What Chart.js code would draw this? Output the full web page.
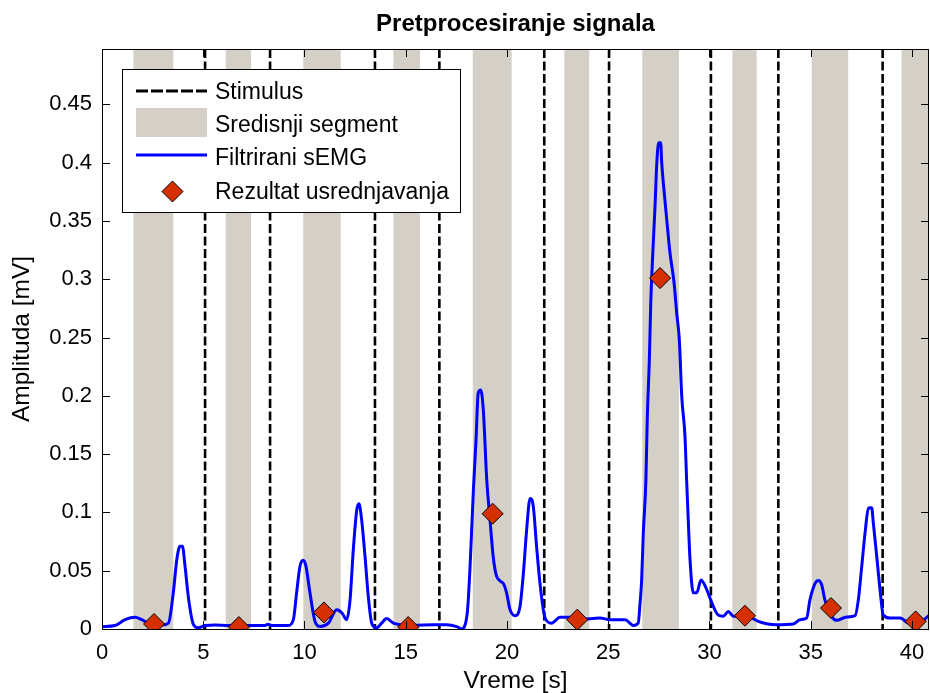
<!DOCTYPE html>
<html>
<head>
<meta charset="utf-8">
<script src="https://cdn.jsdelivr.net/npm/chart.js@4.4.1/dist/chart.umd.min.js"></script>
<style>html,body{margin:0;background:#fff}</style>
</head>
<body>
<canvas id="c" width="930" height="693"></canvas>
<script>
// filtered sEMG envelope
const tSig=[0,0.64,1.14,1.63,1.96,2.37,2.95,3.28,3.52,3.69,3.85,3.97,4.1,4.26,4.51,4.76,5.09,5.58,6.24,7.39,8.05,8.2,8.38,9.2,9.45,9.61,9.78,9.94,10.07,10.27,10.52,10.77,11.18,11.59,11.84,12.08,12.25,12.41,12.58,12.69,12.82,12.99,13.15,13.32,13.56,13.81,14.06,14.39,14.72,15.37,16.36,17.02,17.52,17.76,17.9,18.05,18.17,18.34,18.47,18.58,18.7,18.83,19.0,19.16,19.32,19.49,19.82,19.98,20.15,20.4,20.64,20.81,20.97,21.14,21.3,21.46,21.63,21.88,22.2,22.62,23.11,23.6,24.59,25.09,25.83,26.24,26.48,26.57,26.65,26.73,26.86,26.93,27.03,27.1,27.2,27.31,27.39,27.49,27.59,27.64,27.75,27.89,28.05,28.25,28.38,28.51,28.63,28.79,28.87,28.95,29.04,29.2,29.37,29.58,29.86,30.1,30.43,30.68,30.93,31.18,31.83,32.41,32.82,33.32,34.14,34.47,34.8,34.96,35.21,35.37,35.54,35.7,36.03,36.28,36.77,37.19,37.35,37.52,37.68,37.85,38.01,38.09,38.26,38.42,38.58,38.91,39.41,39.82,40.23,40.56,40.86];
const vSig=[0.002,0.003,0.008,0.010,0.008,0.0045,0.0034,0.005,0.031,0.059,0.071,0.071,0.054,0.028,0.004,0.001,0.003,0.0034,0.003,0.003,0.003,0.004,0.003,0.003,0.008,0.031,0.054,0.059,0.054,0.031,0.0065,0.0022,0.005,0.0166,0.014,0.008,0.025,0.068,0.102,0.1075,0.094,0.062,0.028,0.005,0.001,0.005,0.009,0.005,0.0037,0.003,0.0037,0.0037,0.002,0.0,0.002,0.016,0.051,0.119,0.162,0.2025,0.205,0.188,0.128,0.094,0.062,0.045,0.039,0.031,0.0166,0.0114,0.019,0.048,0.085,0.112,0.105,0.071,0.039,0.0094,0.005,0.010,0.010,0.008,0.0094,0.008,0.008,0.003,0.005,0.022,0.042,0.082,0.128,0.182,0.231,0.28,0.3225,0.3625,0.397,0.417,0.417,0.40,0.377,0.351,0.3225,0.297,0.271,0.248,0.1995,0.165,0.128,0.094,0.059,0.031,0.031,0.042,0.034,0.023,0.012,0.011,0.015,0.011,0.011,0.0065,0.0045,0.0037,0.0043,0.008,0.0094,0.025,0.039,0.0417,0.038,0.025,0.0108,0.0074,0.0103,0.0114,0.025,0.054,0.082,0.1038,0.104,0.091,0.062,0.034,0.012,0.0094,0.0094,0.005,0.0037,0.0074,0.012];
// averaging result (one per central segment)
const tAvg=[2.57,6.76,10.96,15.12,19.29,23.47,27.56,31.75,36.0,40.18];
const vAvg=[0.0043,0.0017,0.0142,0.0017,0.0989,0.008,0.301,0.0114,0.018,0.0065];
// stimulus times
const stimulus=[5.09,8.3,13.48,16.66,21.84,25.04,30.07,33.4,38.55];
// central segments
const segStart=[1.55,6.11,9.94,14.39,18.31,22.83,26.68,31.13,35.05,39.49];
const segEnd=[3.52,7.36,11.79,15.70,20.23,24.06,28.49,32.33,36.85,41.0];
const xTicks=[0,5,10,15,20,25,30,35,40];
const yTicks=[0,0.05,0.1,0.15,0.2,0.25,0.3,0.35,0.4,0.45];
const X_MAX=40.84, Y_MAX=0.4975;

const FONT='"Liberation Sans", Arial, sans-serif';
const GRAY='#d4d0c8';
const MARK='#d63000';

const datasets=[
  {label:'Rezultat usrednjavanja',data:tAvg.map((t,i)=>({x:t,y:vAvg[i]})),showLine:false,
   pointStyle:'rectRot',pointRadius:10.5,pointBackgroundColor:MARK,pointBorderColor:'#000',pointBorderWidth:1},
  {label:'Filtrirani sEMG',data:tSig.map((t,i)=>({x:t,y:vSig[i]})),borderColor:'#0000ff',borderWidth:3,
   pointRadius:0,cubicInterpolationMode:'monotone'}
];
stimulus.forEach(s=>datasets.push({label:'Stimulus',data:[{x:s,y:Y_MAX},{x:s,y:0}],borderColor:'#000',
  borderWidth:2.6,borderDash:[9,3.5],pointRadius:0}));

const frame={
  id:'frame',
  beforeDatasetsDraw(chart){
    const {ctx,chartArea:a,scales:{x}}=chart;
    ctx.save();
    ctx.fillStyle=GRAY;
    segStart.forEach((s,i)=>{
      const l=x.getPixelForValue(s), r=Math.min(x.getPixelForValue(segEnd[i]),a.right);
      ctx.fillRect(l,a.top,r-l,a.bottom-a.top);
    });
    ctx.restore();
  },
  afterDatasetsDraw(chart){
    const {ctx,chartArea:a,scales:{x,y}}=chart;
    ctx.save();
    ctx.strokeStyle='#000';ctx.lineWidth=1;
    ctx.strokeRect(a.left+0.5,a.top+0.5,a.right-a.left-1,a.bottom-a.top);
    ctx.beginPath();
    const tl=8;
    xTicks.forEach(v=>{const p=Math.round(x.getPixelForValue(v))+0.5;
      ctx.moveTo(p,a.bottom);ctx.lineTo(p,a.bottom-tl);ctx.moveTo(p,a.top);ctx.lineTo(p,a.top+tl);});
    yTicks.forEach(v=>{const p=Math.round(y.getPixelForValue(v))+0.5;
      ctx.moveTo(a.left,p);ctx.lineTo(a.left+tl,p);ctx.moveTo(a.right,p);ctx.lineTo(a.right-tl,p);});
    ctx.stroke();
    // x tick labels (drawn here so the last one does not shrink the plot)
    ctx.fillStyle='#000';ctx.font='22px '+FONT;ctx.textAlign='center';ctx.textBaseline='middle';
    xTicks.forEach(v=>ctx.fillText(String(v),x.getPixelForValue(v),a.bottom+24));
    ctx.restore();
  },
  afterDraw(chart){
    const {ctx,chartArea:a}=chart;
    ctx.save();
    // title
    ctx.fillStyle='#000';ctx.font='bold 24px '+FONT;ctx.textAlign='center';ctx.textBaseline='middle';
    ctx.fillText('Pretprocesiranje signala',(a.left+a.right)/2,24);
    // legend
    const bx=122.5,by=69.5,bw=338,bh=143;
    ctx.fillStyle='#fff';ctx.fillRect(bx,by,bw,bh);
    ctx.strokeStyle='#000';ctx.lineWidth=1;ctx.strokeRect(bx,by,bw,bh);
    const x0=136,x1=207,tx=215;
    const rows=[91,124.5,157,191];
    ctx.lineWidth=3;ctx.setLineDash([12,3]);
    ctx.beginPath();ctx.moveTo(x0,rows[0]);ctx.lineTo(x1,rows[0]);ctx.stroke();
    ctx.setLineDash([]);
    ctx.fillStyle=GRAY;ctx.fillRect(x0,108,x1-x0,29);
    ctx.strokeStyle='#0000ff';ctx.beginPath();ctx.moveTo(x0,rows[2]-2);ctx.lineTo(x1,rows[2]-2);ctx.stroke();
    const cx=172.5,cy=rows[3]+0.5,r=10.5;
    ctx.beginPath();ctx.moveTo(cx-r,cy);ctx.lineTo(cx,cy-r);ctx.lineTo(cx+r,cy);ctx.lineTo(cx,cy+r);ctx.closePath();
    ctx.fillStyle=MARK;ctx.fill();ctx.lineWidth=1;ctx.strokeStyle='#000';ctx.stroke();
    ctx.fillStyle='#000';ctx.font='23px '+FONT;ctx.textAlign='left';
    ['Stimulus','Sredisnji segment','Filtrirani sEMG','Rezultat usrednjavanja']
      .forEach((t,i)=>ctx.fillText(t,tx,rows[i]+1.5));
    ctx.restore();
  }
};

new Chart(document.getElementById('c'),{
  type:'line',
  data:{datasets},
  options:{
    responsive:false,animation:false,
    layout:{autoPadding:false,padding:{top:49,right:1,left:0,bottom:0}},
    plugins:{legend:{display:false},tooltip:{enabled:false},title:{display:false}},
    scales:{
      x:{type:'linear',min:0,max:X_MAX,
        grid:{display:false,drawTicks:false},border:{display:false},
        afterBuildTicks:s=>{s.ticks=xTicks.map(v=>({value:v}));},
        afterFit:s=>{s.height=64;},
        ticks:{display:false},
        title:{display:true,text:'Vreme [s]',color:'#000',font:{family:FONT,size:24.5,lineHeight:1},padding:{top:0,bottom:0}}},
      y:{type:'linear',min:0,max:Y_MAX,
        grid:{display:false,drawTicks:false},border:{display:false},
        afterBuildTicks:s=>{s.ticks=yTicks.map(v=>({value:v}));},
        afterFit:s=>{s.width=102;s.paddingTop=0;s.paddingBottom=0;},
        ticks:{color:'#000',font:{family:FONT,size:22},padding:10,callback:v=>String(+v.toFixed(2))},
        title:{display:true,text:'Amplituda [mV]',color:'#000',font:{family:FONT,size:24.5,lineHeight:1},padding:{top:10,bottom:0}}}
    }
  },
  plugins:[frame]
});
</script>
</body>
</html>
